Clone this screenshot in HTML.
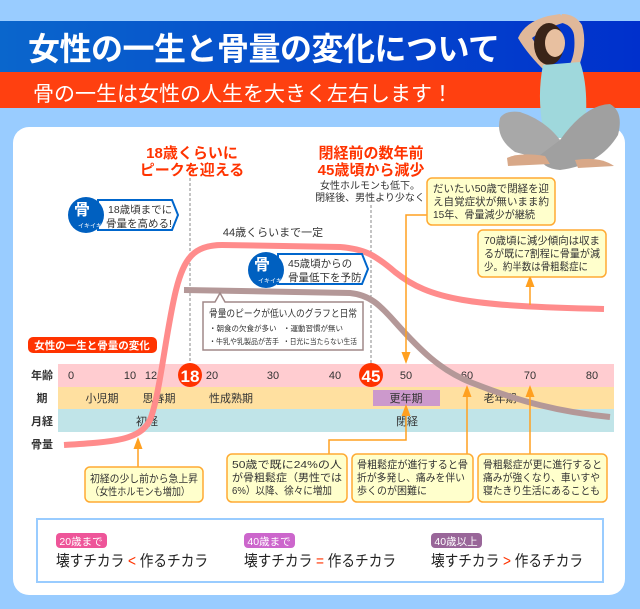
<!DOCTYPE html>
<html><head><meta charset="utf-8"><style>
html,body{margin:0;padding:0;background:#99ccff;}
svg{display:block;font-family:"Liberation Sans","Noto Sans CJK JP",sans-serif;}
</style></head><body>
<svg width="640" height="609" viewBox="0 0 640 609" xmlns="http://www.w3.org/2000/svg">
<defs>
<linearGradient id="bl" x1="0" x2="1"><stop offset="0" stop-color="#0a66cc"/><stop offset="1" stop-color="#0030cc"/></linearGradient>
<marker id="ar" markerWidth="8" markerHeight="8" refX="4" refY="4" orient="auto"><path d="M0,1 L8,4 L0,7 Z" fill="#ffa020"/></marker>
</defs>
<rect width="640" height="609" fill="#99ccff"/>
<rect x="0" y="21" width="640" height="51" fill="url(#bl)"/>
<rect x="0" y="72" width="640" height="36" fill="#ff4010"/>
<text x="28" y="60" font-size="32" font-weight="bold" fill="#fff" letter-spacing="-0.5">女性の一生と骨量の変化について</text>
<text x="33" y="101" font-size="21" fill="#fff">骨の一生は女性の人生を大きく左右します！</text>
<rect x="13" y="127" width="612" height="468" rx="16" fill="#fff"/>

<!-- woman -->
<g>
<path d="M546,72 Q528,55 518,38 Q525,22 548,16 L560,14 L566,22 Q545,28 532,38 Q540,52 552,62 Z" fill="#e0b89a"/>
<path d="M578,68 Q588,45 582,25 Q575,14 562,14 L558,22 Q572,24 574,35 Q576,52 570,64 Z" fill="#e0b89a"/>
<ellipse cx="549" cy="44" rx="15" ry="21" fill="#3a2418"/>
<ellipse cx="555" cy="43" rx="10" ry="14" fill="#e8c0a0"/>
<path d="M543,65 L580,62 Q590,90 584,138 L545,138 Q536,100 543,65 Z" fill="#9fd8dc"/>
<path d="M500,118 Q505,110 520,112 Q545,120 560,140 L545,160 L515,152 Q495,138 500,118 Z" fill="#a8a8a8"/>
<path d="M560,140 Q585,105 610,104 Q624,112 618,135 Q600,165 560,170 Q540,168 540,155 Z" fill="#a0a0a0"/>
<path d="M507,158 Q520,152 545,156 L550,164 L508,166 Z" fill="#d8a888"/>
<path d="M575,160 Q600,156 614,166 L578,168 Z" fill="#d8a888"/>
</g>

<!-- headings -->
<g fill="#ff3300" font-size="15" font-weight="bold" text-anchor="middle">
<text x="192" y="158">18歳くらいに</text><text x="192" y="175">ピークを迎える</text>
<text x="371" y="158">閉経前の数年前</text><text x="371" y="175">45歳頃から減少</text>
</g>
<g font-size="10" fill="#333" text-anchor="middle">
<text x="370" y="189">女性ホルモンも低下。</text><text x="370" y="201">閉経後、男性より少なく</text>
</g>

<!-- dashed -->
<line x1="190" y1="178" x2="190" y2="364" stroke="#888" stroke-dasharray="3,2"/>
<line x1="371" y1="205" x2="371" y2="364" stroke="#888" stroke-dasharray="3,2"/>

<!-- timeline rows -->
<rect x="58" y="364" width="556" height="23" fill="#ffccd0"/>
<rect x="58" y="387" width="556" height="22" fill="#ffe0a0"/>
<rect x="58" y="409" width="556" height="23" fill="#c0e4e8"/>
<rect x="373" y="390" width="67" height="16" fill="#cc99cc"/>
<g font-size="11" font-weight="bold" fill="#333" text-anchor="middle">
<text x="42" y="379">年齢</text><text x="42" y="402">期</text><text x="42" y="425">月経</text><text x="42" y="448">骨量</text>
</g>
<g font-size="11" fill="#333" text-anchor="middle">
<text x="71" y="379">0</text><text x="130" y="379">10</text><text x="151" y="379">12</text><text x="212" y="379">20</text><text x="273" y="379">30</text><text x="335" y="379">40</text><text x="406" y="379">50</text><text x="467" y="379">60</text><text x="530" y="379">70</text><text x="592" y="379">80</text>
<text x="102" y="402">小児期</text><text x="159" y="402">思春期</text><text x="231" y="402">性成熟期</text><text x="406" y="402">更年期</text><text x="500" y="402">老年期</text>
<text x="147" y="425">初経</text><text x="407" y="425">閉経</text>
</g>

<!-- curves -->
<path d="M184,290 L350,293 C370,295 380,305 395,322 C420,350 440,370 470,382 C520,402 560,412 610,417" fill="none" stroke="#b49898" stroke-width="6"/>
<path d="M64,445 C115,442 140,440 150,420 C160,395 166,330 176,290 C184,258 194,245 222,245 L340,247 C365,249 375,255 395,272 C430,300 470,306 604,309" fill="none" stroke="#ff8c8c" stroke-width="6"/>

<circle cx="190" cy="375" r="12" fill="#ff3300"/><text x="190" y="382" font-size="17" fill="#fff" text-anchor="middle" font-weight="bold">18</text>
<circle cx="371" cy="375" r="12" fill="#ff3300"/><text x="371" y="382" font-size="17" fill="#fff" text-anchor="middle" font-weight="bold">45</text>

<text x="273" y="236" font-size="11" fill="#333" text-anchor="middle">44歳くらいまで一定</text>

<!-- badges -->
<path d="M98,200 L172,200 L178,215 L172,230 L98,230 Z" fill="#fff" stroke="#0066cc" stroke-width="2"/>
<circle cx="86" cy="215" r="18" fill="#0060c0"/>
<text x="82" y="215" font-size="16" fill="#fff" text-anchor="middle" font-weight="bold">骨</text>
<text x="90" y="228" font-size="6" fill="#fff" text-anchor="middle">イキイキ</text>
<g font-size="10.5" fill="#333"><text x="108" y="213">18歳頃までに</text><text x="106" y="227">骨量を高める!</text></g>

<path d="M278,254 L362,254 L368,269 L362,284 L278,284 Z" fill="#fff" stroke="#0066cc" stroke-width="2"/>
<circle cx="266" cy="270" r="18" fill="#0060c0"/>
<text x="262" y="270" font-size="16" fill="#fff" text-anchor="middle" font-weight="bold">骨</text>
<text x="270" y="283" font-size="6" fill="#fff" text-anchor="middle">イキイキ</text>
<g font-size="10.5" fill="#333"><text x="288" y="267">45歳頃からの</text><text x="288" y="281">骨量低下を予防</text></g>

<!-- gray box -->
<path d="M203,302 L215,302 L220,293 L225,302 L363,302 L363,350 L203,350 Z" fill="#fff" stroke="#a08888" stroke-width="1.5"/>
<text x="209" y="317" font-size="10" fill="#333" textLength="148" lengthAdjust="spacingAndGlyphs">骨量のピークが低い人のグラフと日常</text>
<g font-size="7.5" fill="#333"><text x="209" y="331">・朝食の欠食が多い</text><text x="283" y="331">・運動習慣が無い</text><text x="209" y="344" textLength="70" lengthAdjust="spacingAndGlyphs">・牛乳や乳製品が苦手</text><text x="283" y="344" textLength="74" lengthAdjust="spacingAndGlyphs">・日光に当たらない生活</text></g>

<rect x="28" y="337" width="129" height="16" rx="5" fill="#ff3300"/>
<text x="92" y="349" font-size="10.5" font-weight="bold" fill="#fff" text-anchor="middle">女性の一生と骨量の変化</text>

<!-- connectors -->
<g stroke="#ffa020" stroke-width="1.5" fill="none">
<polyline points="427,215 406,215 406,358" marker-end="url(#ar)"/>
<line x1="530" y1="305" x2="530" y2="281" marker-end="url(#ar)"/>
<line x1="138" y1="467" x2="138" y2="443" marker-end="url(#ar)"/>
<polyline points="329,454 329,440 406,440 406,410" marker-end="url(#ar)"/>
<line x1="467" y1="454" x2="467" y2="391" marker-end="url(#ar)"/>
<line x1="530" y1="454" x2="530" y2="391" marker-end="url(#ar)"/>
</g>

<!-- callouts -->
<g fill="#ffffcc" stroke="#ffaa33" stroke-width="1.5">
<rect x="427" y="178" width="128" height="47" rx="5"/>
<rect x="478" y="230" width="128" height="47" rx="5"/>
<rect x="85" y="467" width="118" height="35" rx="5"/>
<rect x="227" y="454" width="120" height="48" rx="5"/>
<rect x="352" y="454" width="121" height="48" rx="5"/>
<rect x="478" y="454" width="129" height="48" rx="5"/>
</g>
<g font-size="10.5" fill="#333" lengthAdjust="spacingAndGlyphs">
<text x="433" y="192" textLength="116" lengthAdjust="spacingAndGlyphs">だいたい50歳で閉経を迎</text><text x="433" y="205" textLength="116" lengthAdjust="spacingAndGlyphs">え自覚症状が無いまま約</text><text x="433" y="218" textLength="102" lengthAdjust="spacingAndGlyphs">15年、骨量減少が継続</text>
<text x="484" y="244" textLength="116" lengthAdjust="spacingAndGlyphs">70歳頃に減少傾向は収ま</text><text x="484" y="257" textLength="116" lengthAdjust="spacingAndGlyphs">るが既に7割程に骨量が減</text><text x="484" y="270" textLength="104" lengthAdjust="spacingAndGlyphs">少。約半数は骨粗鬆症に</text>
<text x="90" y="482" textLength="108" lengthAdjust="spacingAndGlyphs">初経の少し前から急上昇</text><text x="90" y="495" textLength="100" lengthAdjust="spacingAndGlyphs">（女性ホルモンも増加）</text>
<text x="232" y="468" textLength="110" lengthAdjust="spacingAndGlyphs">50歳で既に24%の人</text><text x="232" y="481" textLength="110" lengthAdjust="spacingAndGlyphs">が骨粗鬆症（男性では</text><text x="232" y="494" textLength="100" lengthAdjust="spacingAndGlyphs">6%）以降、徐々に増加</text>
<text x="357" y="468" textLength="111" lengthAdjust="spacingAndGlyphs">骨粗鬆症が進行すると骨</text><text x="357" y="481" textLength="108" lengthAdjust="spacingAndGlyphs">折が多発し、痛みを伴い</text><text x="357" y="494" textLength="70" lengthAdjust="spacingAndGlyphs">歩くのが困難に</text>
<text x="483" y="468" textLength="119" lengthAdjust="spacingAndGlyphs">骨粗鬆症が更に進行すると</text><text x="483" y="481" textLength="117" lengthAdjust="spacingAndGlyphs">痛みが強くなり、車いすや</text><text x="483" y="494" textLength="117" lengthAdjust="spacingAndGlyphs">寝たきり生活にあることも</text>
</g>

<!-- bottom box -->
<rect x="37" y="519" width="566" height="63" fill="#fff" stroke="#99ccff" stroke-width="2"/>
<rect x="56" y="533" width="51" height="15" rx="4" fill="#ee5599"/>
<rect x="244" y="533" width="51" height="15" rx="4" fill="#cc66cc"/>
<rect x="431" y="533" width="51" height="15" rx="4" fill="#996699"/>
<g font-size="10.5" fill="#fff" text-anchor="middle"><text x="81" y="545">20歳まで</text><text x="269" y="545">40歳まで</text><text x="456" y="545">40歳以上</text></g>
<g font-size="15.5" fill="#222">
<text x="56" y="566" textLength="152" lengthAdjust="spacingAndGlyphs">壊すチカラ <tspan fill="#ff3300">&lt;</tspan> 作るチカラ</text>
<text x="244" y="566" textLength="152" lengthAdjust="spacingAndGlyphs">壊すチカラ <tspan fill="#ff3300">=</tspan> 作るチカラ</text>
<text x="431" y="566" textLength="152" lengthAdjust="spacingAndGlyphs">壊すチカラ <tspan fill="#ff3300">&gt;</tspan> 作るチカラ</text>
</g>
</svg>
</body></html>
